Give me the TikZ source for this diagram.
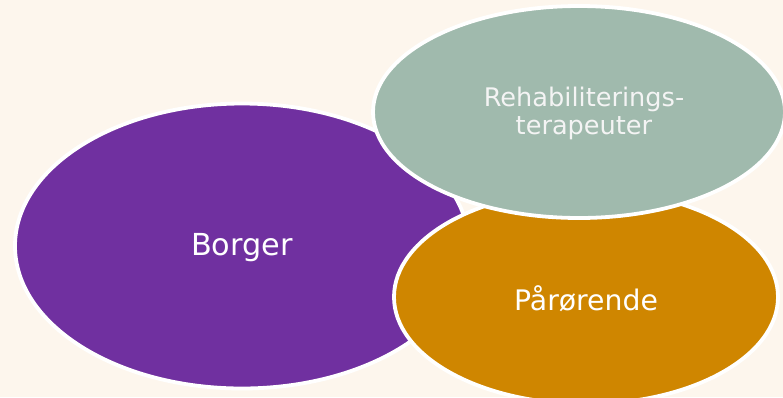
\documentclass[tikz,border=0pt]{standalone}
\usepackage{fontspec}
\setmainfont{DejaVu Sans}
\usetikzlibrary{shapes.geometric}
\definecolor{bg}{HTML}{FDF6ED}
\definecolor{borgerc}{HTML}{7030A0}
\definecolor{parc}{HTML}{CF8600}
\definecolor{rehabc}{HTML}{A0BAAD}
\definecolor{txtc}{HTML}{F4F4F4}
\tikzset{
  blob/.style={ellipse, draw=white, line width=3.8pt, inner sep=0pt},
  lbl/.style={text=white, align=center, inner sep=0pt}
}
\begin{document}
\begin{tikzpicture}[x=1pt,y=-1pt]
\useasboundingbox (0,0) rectangle (783,397);
\fill[bg] (0,0) rectangle (783,397);
\clip (0,0) rectangle (783,397);
\node[blob, fill=borgerc, minimum width=454pt, minimum height=285pt] (borger) at (242,246) {};
\node[blob, fill=parc, minimum width=384pt, minimum height=214pt] (par) at (586,297) {};
\node[blob, fill=rehabc, minimum width=412pt, minimum height=212pt] (rehab) at (579,112) {};
\node[lbl, font=\fontsize{30.3}{36}\selectfont] (tborger) at (242,247.5) {Borger};
\node[lbl, font=\fontsize{28.3}{34}\selectfont] (tpar) at (586,298.5) {Pårørende};
\node[lbl, text=txtc, font=\fontsize{25.6}{28}\selectfont] (trehab) at (584,113) {Rehabiliterings-\\terapeuter};
\end{tikzpicture}
\end{document}
